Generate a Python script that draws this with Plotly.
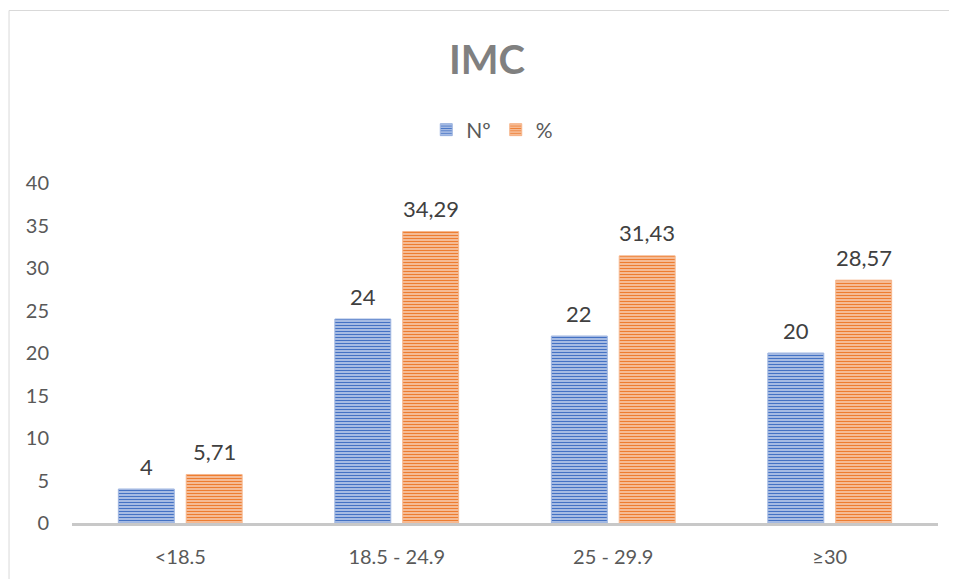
import plotly.graph_objects as go

categories = ["<18.5", "18.5 - 24.9", "25 - 29.9", "≥30"]
count_values = [4, 24, 22, 20]
pct_values = [5.71, 34.29, 31.43, 28.57]
y_ticks = [0, 5, 10, 15, 20, 25, 30, 35, 40]

FONT = "Lato, Open Sans, sans-serif"
BLUE = "#4472C4"
BLUE_LIGHT = "#D4DEF2"
ORANGE = "#ED7D31"
ORANGE_LIGHT = "#FAD9C4"

# page has an 8px body margin; figure sized to fill the rest of the window
W, H = 949, 571
ML, MR, MT, MB = 63.5, 19, 175, 56
pw = W - ML - MR
ph = H - MT - MB


def fmt(v):
    if float(v).is_integer():
        return str(int(v))
    return f"{v:.2f}".replace(".", ",")


fig = go.Figure()
fig.add_trace(go.Bar(
    name="Nº", x=categories, y=count_values,
    marker=dict(color=BLUE, line=dict(color="#9DB4E0", width=1),
                pattern=dict(shape="-", size=3, solidity=0.55,
                             fgcolor=BLUE, bgcolor=BLUE_LIGHT, fillmode="replace")),
))
fig.add_trace(go.Bar(
    name="%", x=categories, y=pct_values,
    marker=dict(color=ORANGE, line=dict(color="#F6B68C", width=1),
                pattern=dict(shape="-", size=3, solidity=0.55,
                             fgcolor=ORANGE, bgcolor=ORANGE_LIGHT, fillmode="replace")),
))

# data labels
for vals, shift in ((count_values, -34), (pct_values, 34)):
    for c, v in zip(categories, vals):
        fig.add_annotation(x=c, y=v, xref="x", yref="y", text=fmt(v),
                           showarrow=False, xshift=shift, yshift=23,
                           yanchor="middle",
                           font=dict(family=FONT, size=22, color="#404040"))

# chart border
fig.add_shape(type="rect", xref="paper", yref="paper",
              x0=(0.5 - ML) / pw, x1=1.2, y0=-0.3, y1=(H - MB - 2.5) / ph,
              line=dict(color="#D9D9D9", width=1), fillcolor="rgba(0,0,0,0)",
              layer="below")

fig.update_layout(
    width=W, height=H,
    margin=dict(l=ML, r=MR, t=MT, b=MB, pad=0),
    paper_bgcolor="white", plot_bgcolor="white",
    barmode="group", bargap=0.373, bargroupgap=0.176,
    title=dict(text="<b>IMC</b>", x=479 / W, xanchor="center",
               y=1 - 52 / H, yanchor="middle",
               font=dict(family=FONT, size=40, color="#808080")),
    legend=dict(orientation="h", x=(484 - ML) / pw, xanchor="center",
                y=(H - MB - 122) / ph, yanchor="middle",
                font=dict(family=FONT, size=21, color="#595959"),
                itemwidth=30, traceorder="normal"),
    showlegend=True,
    xaxis=dict(showgrid=False, showline=True, linecolor="#C8C8C8", linewidth=3,
               ticks="outside", ticklen=14, tickcolor="rgba(0,0,0,0)",
               tickfont=dict(family=FONT, size=20, color="#595959")),
    yaxis=dict(range=[0, 40], tickvals=y_ticks, showgrid=False, zeroline=False,
               showline=False, ticks="outside", ticklen=18,
               tickcolor="rgba(0,0,0,0)",
               tickfont=dict(family=FONT, size=20, color="#595959")),
)

fig.write_html("out.html")
